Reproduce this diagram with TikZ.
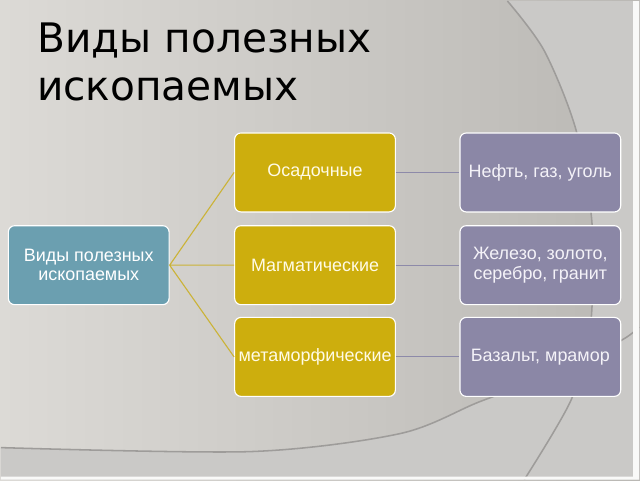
\documentclass[tikz,border=0pt]{standalone}
\usepackage{fontspec}
\setmainfont{Liberation Sans}
\newfontfamily\titlefont{DejaVu Sans}
\definecolor{bgleft}{HTML}{DCDAD6}
\definecolor{bgright}{HTML}{BAB8B4}
\definecolor{bglight}{HTML}{CAC9C7}
\definecolor{swirl}{HTML}{9E9C9A}
\definecolor{rootcol}{HTML}{6B9FB0}
\definecolor{goldcol}{HTML}{CDAE0D}
\definecolor{lilaccol}{HTML}{8B87A6}
\definecolor{goldline}{HTML}{CBB338}
\definecolor{lilacline}{HTML}{8D8AA9}
\tikzset{
  box/.style={draw=white, line width=0.8pt, rounded corners=4.5pt,
    minimum width=4.03cm, minimum height=1.98cm, align=center, inner sep=2pt,
    font=\fontsize{12.8}{13.6}\selectfont},
  rootbox/.style={box, fill=rootcol, text=white},
  kindbox/.style={box, fill=goldcol, text={rgb,255:red,255;green,251;blue,230}},
  orebox/.style={box, fill=lilaccol, text={rgb,255:red,244;green,242;blue,248}}
}

\begin{document}
\begin{tikzpicture}[x=0.025cm,y=-0.025cm]
    % background
    \fill[left color=bgleft, right color=bgright] (-1,-1) rectangle (641,481);
    \fill[bglight] plot[smooth] coordinates {(508,0) (545,50) (577,130) (593,225) (591,330) (572,400) (525,480)}
      -- (640,480) -- (640,0) -- cycle;
    \fill[bglight] plot[smooth] coordinates {(0,448) (250,452) (400,434) (480,402) (560,372) (623,340) (640,327)}
      -- (640,480) -- (0,480) -- cycle;
    \draw[swirl, line width=1.1pt] plot[smooth] coordinates {(508,0) (545,50) (577,130) (593,225) (591,330) (572,400) (525,480)};
    \draw[swirl, line width=1.1pt] plot[smooth] coordinates {(0,448) (250,452) (400,434) (480,402) (560,372) (623,340) (640,327)};
    \fill[white!88!bglight] (634,0) rectangle (640,480) (0,477) rectangle (640,480);
    \useasboundingbox (0,0) rectangle (640,480);

    % title
    \node[anchor=north west, inner sep=0pt, align=left,
      font=\titlefont\fontsize{29}{34}\selectfont] (title) at (36,22)
      {Виды полезных\\ископаемых};

    % boxes
    \node[rootbox] (root) at (88,265) {Виды полезных\\ископаемых};
    \node[kindbox] (sed) at (315,172) {Осадочные};
    \node[kindbox] (mag) at (315,265) {Магматические};
    \node[kindbox] (met) at (315,357) {метаморфические};
    \node[orebox] (oil) at (541,172) {Нефть, газ, уголь};
    \node[orebox] (iron) at (541,265) {Железо, золото,\\серебро, гранит};
    \node[orebox] (bas) at (541,357) {Базальт, мрамор};

    % connectors
    \draw[goldline, line width=0.8pt] (root.east) -- (sed.west)
      (root.east) -- (mag.west) (root.east) -- (met.west);
    \draw[lilacline, line width=0.8pt] (sed.east) -- (oil.west)
      (mag.east) -- (iron.west) (met.east) -- (bas.west);
\end{tikzpicture}
\end{document}
